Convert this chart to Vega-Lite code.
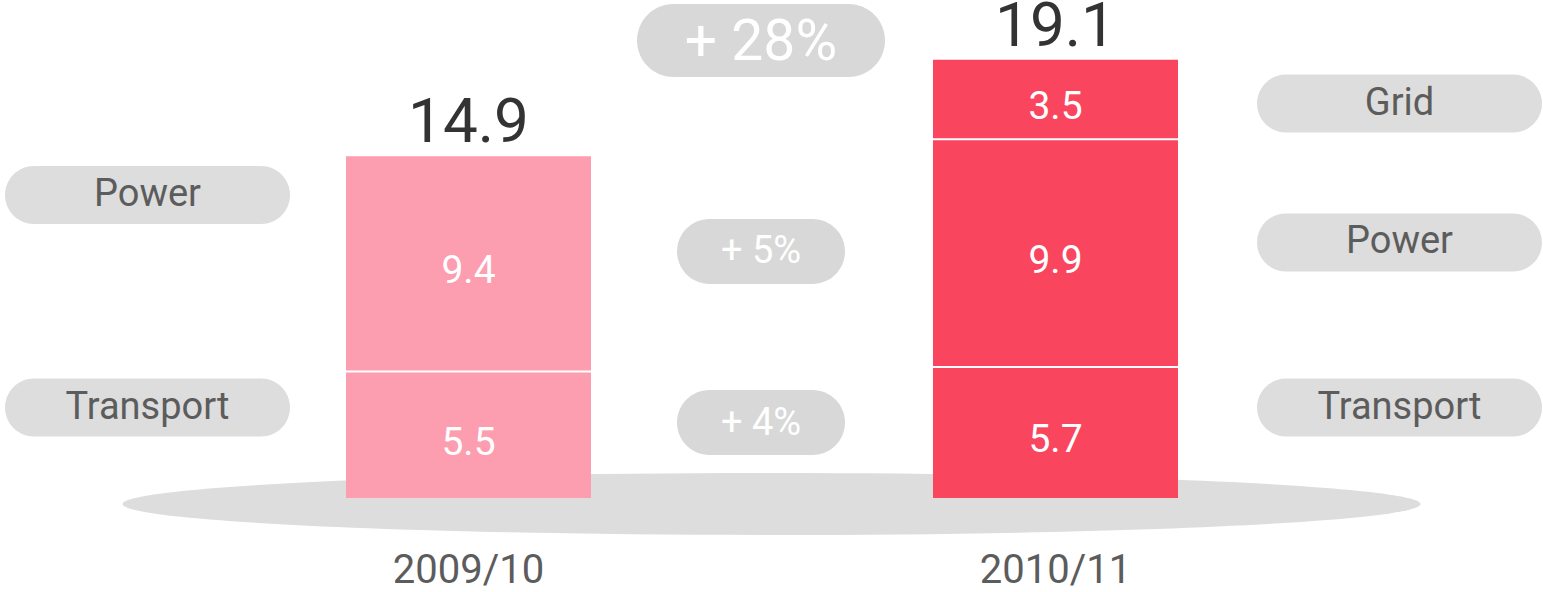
{
  "$schema": "https://vega.github.io/schema/vega-lite/v6.json",
  "width": 1543,
  "height": 592,
  "padding": 0,
  "autosize": {"type": "none"},
  "config": {"view": {"stroke": null}, "font": "Roboto"},
  "datasets": {
    "segments": [
      {"year": "2009/10", "segment": "Transport", "rank": 1, "value": 5.5},
      {"year": "2009/10", "segment": "Power", "rank": 2, "value": 9.4},
      {"year": "2010/11", "segment": "Transport", "rank": 1, "value": 5.7},
      {"year": "2010/11", "segment": "Power", "rank": 2, "value": 9.9},
      {"year": "2010/11", "segment": "Grid", "rank": 3, "value": 3.5}
    ],
    "labels": [
      {"year": "2009/10", "label": "Power", "level": 13.17},
      {"year": "2009/10", "label": "Transport", "level": 3.93},
      {"year": "2010/11", "label": "Grid", "level": 17.15},
      {"year": "2010/11", "label": "Power", "level": 11.11},
      {"year": "2010/11", "label": "Transport", "level": 3.93}
    ],
    "changes": [
      {"change": "+ 28%", "scope": "total", "level": 19.89},
      {"change": "+ 5%", "scope": "Power", "level": 10.72},
      {"change": "+ 4%", "scope": "Transport", "level": 3.28}
    ],
    "years": [{"year": "2009/10"}, {"year": "2010/11"}],
    "base": [{"name": "base"}]
  },
  "encoding": {
    "x": {
      "field": "year", "type": "nominal", "axis": null,
      "scale": {"type": "band", "domain": ["2009/10", "2010/11"], "paddingInner": 0.582624, "paddingOuter": 0.605622, "align": 0.48664, "round": false}
    }
  },
  "layer": [
    {
      "data": {"name": "base"},
      "mark": {"type": "point", "filled": true, "color": "#dddddd", "opacity": 1, "strokeWidth": 0, "size": 1684804,
        "shape": "M -1 0 C -1 -0.02638 -0.5523 -0.04777 0 -0.04777 C 0.5523 -0.04777 1 -0.02638 1 0 C 1 0.02638 0.5523 0.04777 0 0.04777 C -0.5523 0.04777 -1 0.02638 -1 0 Z"},
      "encoding": {
        "x": null,
        "y": {"datum": -0.26, "type": "quantitative", "axis": null, "scale": {"domain": [-4.087, 21.652], "nice": false, "zero": false}}
      }
    },
    {
      "data": {"name": "labels"},
      "transform": [{"filter": "datum.year == '2009/10'"}],
      "mark": {"type": "point", "filled": true, "color": "#dddddd", "opacity": 1, "strokeWidth": 0, "size": 81225, "xOffset": -321,
        "shape": "M -0.7965 -0.2035 L 0.7965 -0.2035 C 0.9089 -0.2035 1 -0.1124 1 0 C 1 0.1124 0.9089 0.2035 0.7965 0.2035 L -0.7965 0.2035 C -0.9089 0.2035 -1 0.1124 -1 0 C -1 -0.1124 -0.9089 -0.2035 -0.7965 -0.2035 Z"},
      "encoding": {"y": {"field": "level", "type": "quantitative"}}
    },
    {
      "data": {"name": "labels"},
      "transform": [{"filter": "datum.year == '2010/11'"}],
      "mark": {"type": "point", "filled": true, "color": "#dddddd", "opacity": 1, "strokeWidth": 0, "size": 81225, "xOffset": 344,
        "shape": "M -0.7965 -0.2035 L 0.7965 -0.2035 C 0.9089 -0.2035 1 -0.1124 1 0 C 1 0.1124 0.9089 0.2035 0.7965 0.2035 L -0.7965 0.2035 C -0.9089 0.2035 -1 0.1124 -1 0 C -1 -0.1124 -0.9089 -0.2035 -0.7965 -0.2035 Z"},
      "encoding": {"y": {"field": "level", "type": "quantitative"}}
    },
    {
      "data": {"name": "labels"},
      "transform": [{"filter": "datum.year == '2009/10'"}],
      "mark": {"type": "text", "fontSize": 38, "color": "#5c5c5c", "baseline": "middle", "align": "center", "xOffset": -321, "dy": 0},
      "encoding": {"y": {"field": "level", "type": "quantitative"}, "text": {"field": "label"}}
    },
    {
      "data": {"name": "labels"},
      "transform": [{"filter": "datum.year == '2010/11'"}],
      "mark": {"type": "text", "fontSize": 38, "color": "#5c5c5c", "baseline": "middle", "align": "center", "xOffset": 344, "dy": 0},
      "encoding": {"y": {"field": "level", "type": "quantitative"}, "text": {"field": "label"}}
    },
    {
      "data": {"name": "changes"},
      "transform": [{"filter": "datum.scope == 'total'"}],
      "mark": {"type": "point", "filled": true, "color": "#d8d8d8", "opacity": 1, "strokeWidth": 0, "size": 61504, "xOffset": -10.5,
        "shape": "M -0.7056 -0.2944 L 0.7056 -0.2944 C 0.8682 -0.2944 1 -0.1626 1 0 C 1 0.1626 0.8682 0.2944 0.7056 0.2944 L -0.7056 0.2944 C -0.8682 0.2944 -1 0.1626 -1 0 C -1 -0.1626 -0.8682 -0.2944 -0.7056 -0.2944 Z"},
      "encoding": {"x": null, "y": {"field": "level", "type": "quantitative"}}
    },
    {
      "data": {"name": "changes"},
      "transform": [{"filter": "datum.scope != 'total'"}],
      "mark": {"type": "point", "filled": true, "color": "#d8d8d8", "opacity": 1, "strokeWidth": 0, "size": 28224, "xOffset": -10.5,
        "shape": "M -0.6131 -0.3869 L 0.6131 -0.3869 C 0.8268 -0.3869 1 -0.2137 1 0 C 1 0.2137 0.8268 0.3869 0.6131 0.3869 L -0.6131 0.3869 C -0.8268 0.3869 -1 0.2137 -1 0 C -1 -0.2137 -0.8268 -0.3869 -0.6131 -0.3869 Z"},
      "encoding": {"x": null, "y": {"field": "level", "type": "quantitative"}}
    },
    {
      "data": {"name": "changes"},
      "transform": [{"filter": "datum.scope == 'total'"}],
      "mark": {"type": "text", "fontSize": 57, "color": "white", "baseline": "middle", "align": "center", "xOffset": -10.5, "dy": 2},
      "encoding": {"x": null, "y": {"field": "level", "type": "quantitative"}, "text": {"field": "change"}}
    },
    {
      "data": {"name": "changes"},
      "transform": [{"filter": "datum.scope != 'total'"}],
      "mark": {"type": "text", "fontSize": 38, "color": "white", "baseline": "middle", "align": "center", "xOffset": -10.5, "dy": 1},
      "encoding": {"x": null, "y": {"field": "level", "type": "quantitative"}, "text": {"field": "change"}}
    },
    {
      "data": {"name": "segments"},
      "mark": {"type": "bar"},
      "encoding": {
        "y": {"field": "value", "type": "quantitative", "stack": "zero"},
        "color": {"field": "year", "type": "nominal", "legend": null, "scale": {"domain": ["2009/10", "2010/11"], "range": ["#fd9db0", "#f9455e"]}},
        "detail": {"field": "segment"},
        "order": {"field": "rank", "type": "quantitative"}
      }
    },
    {
      "data": {"name": "segments"},
      "mark": {"type": "tick", "color": "white", "size": 245, "thickness": 2, "opacity": 1},
      "encoding": {
        "y": {"field": "value", "type": "quantitative", "stack": "zero"},
        "detail": {"field": "segment"},
        "order": {"field": "rank", "type": "quantitative"}
      }
    },
    {
      "data": {"name": "segments"},
      "mark": {"type": "text", "fontSize": 39, "color": "white", "baseline": "middle", "align": "center", "dy": 8},
      "encoding": {
        "y": {"field": "value", "type": "quantitative", "stack": "zero", "bandPosition": 0.5},
        "detail": {"field": "segment"},
        "order": {"field": "rank", "type": "quantitative"},
        "text": {"field": "value", "type": "quantitative", "format": ".1f"}
      }
    },
    {
      "data": {"name": "segments"},
      "mark": {"type": "text", "fontSize": 62, "color": "#333333", "baseline": "alphabetic", "align": "center", "dy": -13},
      "encoding": {
        "y": {"aggregate": "sum", "field": "value", "type": "quantitative"},
        "text": {"aggregate": "sum", "field": "value", "type": "quantitative", "format": ".1f"}
      }
    },
    {
      "data": {"name": "years"},
      "mark": {"type": "text", "fontSize": 40, "color": "#5c5c5c", "baseline": "middle", "align": "center"},
      "encoding": {
        "y": {"datum": -3.17, "type": "quantitative"},
        "text": {"field": "year"}
      }
    }
  ]
}
